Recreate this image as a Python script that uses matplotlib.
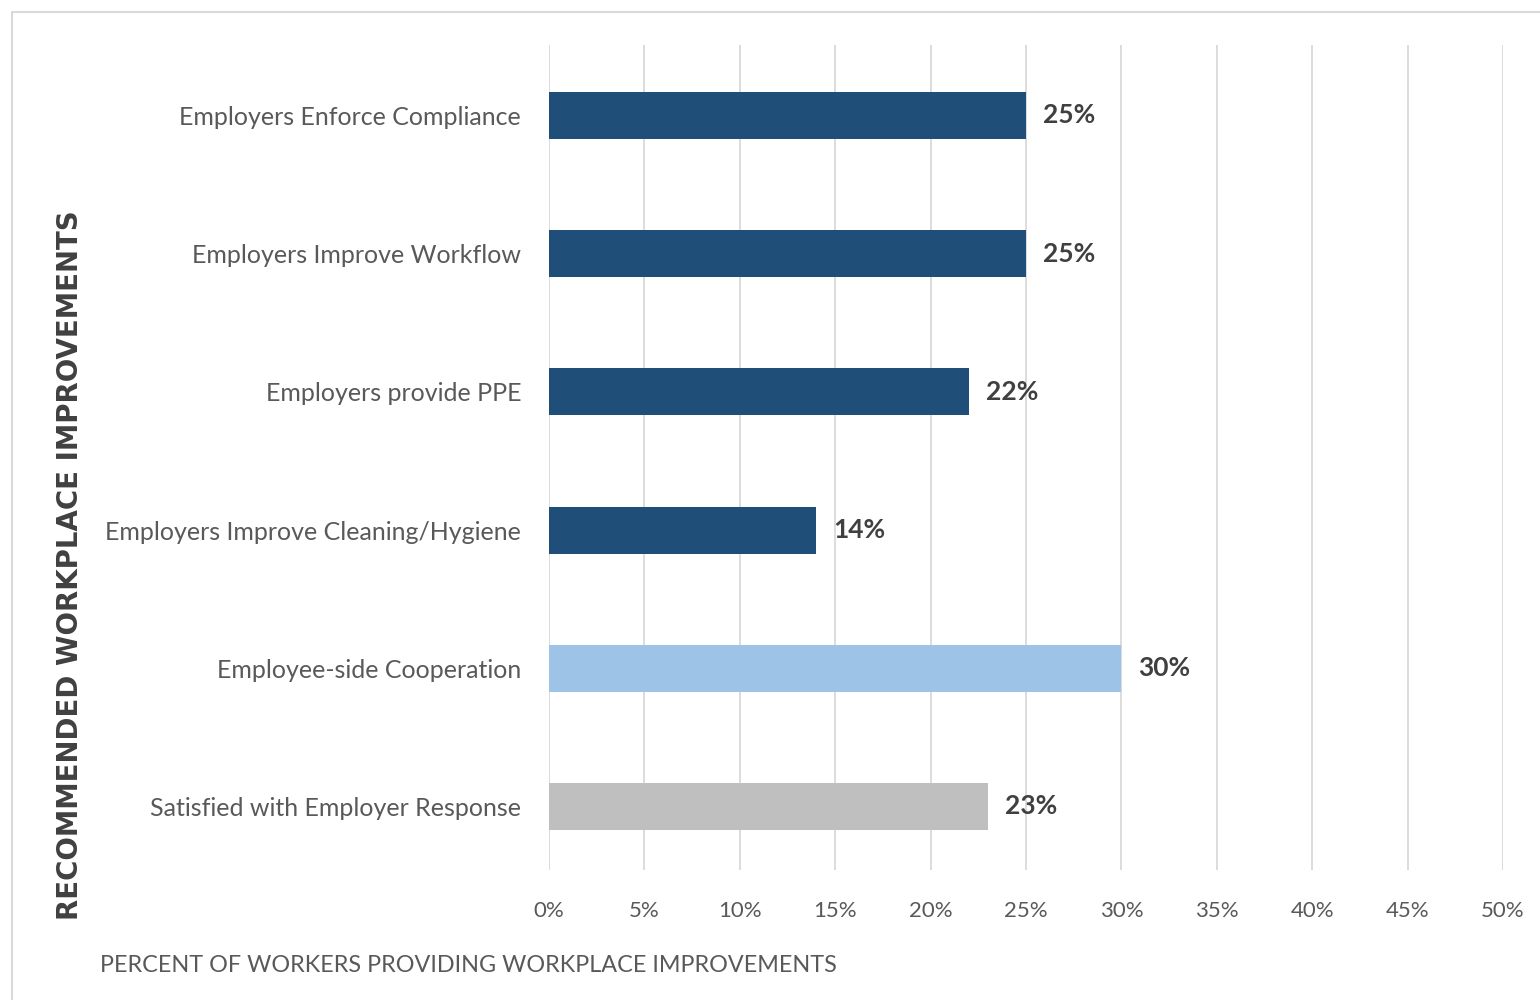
import matplotlib.pyplot as plt
from matplotlib.patches import Rectangle
from matplotlib.ticker import MultipleLocator, FuncFormatter

categorias = ['Employers Enforce Compliance', 'Employers Improve Workflow', 'Employers provide PPE',
              'Employers Improve Cleaning/Hygiene', 'Employee-side Cooperation',
              'Satisfied with Employer Response']
valores = [25, 25, 22, 14, 30, 23]
colores = ['#1F4E79', '#1F4E79', '#1F4E79', '#1F4E79', '#9DC3E6', '#BFBFBF']

plt.rcParams['font.family'] = ['Lato', 'DejaVu Sans']

fig = plt.figure(figsize=(15.4, 10), dpi=100)
ax = fig.add_axes([549 / 1540, 0.13, (1503 - 549) / 1540, 0.825])

# marco del grafico
fig.patches.append(Rectangle((12 / 1540, -0.05), 1.2, 1.05 - 12 / 1000, transform=fig.transFigure,
                             fill=False, edgecolor='#D9D9D9', linewidth=1.5))

pos = list(range(len(categorias)))[::-1]
ax.barh(pos, valores, height=0.34, color=colores, zorder=3)
for p, v in zip(pos, valores):
    ax.text(v + 0.9, p, f'{v}%', va='center', ha='left', fontsize=19, fontweight='bold', color='#404040')

ax.set_xlim(0, 50)
ax.set_ylim(-0.46, 5.51)
ax.xaxis.set_major_locator(MultipleLocator(5))
ax.xaxis.set_major_formatter(FuncFormatter(lambda x, _: f'{x:.0f}%'))
ax.set_yticks(pos)
ax.set_yticklabels(categorias)
ax.grid(axis='x', color='#D9D9D9', linewidth=1.3, zorder=0)
for s in ax.spines.values():
    s.set_visible(False)
ax.tick_params(axis='both', length=0, labelcolor='#595959')
ax.tick_params(axis='y', labelsize=18, pad=20)
ax.tick_params(axis='x', labelsize=16, pad=22)

fig.text(70 / 1540, 1 - 565 / 1000, 'RECOMMENDED WORKPLACE IMPROVEMENTS', rotation=90, ha='center', va='center',
         fontsize=19.9, fontweight='bold', color='#404040', family='DejaVu Sans')
fig.text(100 / 1540, 1 - 965 / 1000, 'PERCENT OF WORKERS PROVIDING WORKPLACE IMPROVEMENTS', ha='left', va='center',
         fontsize=16.8, color='#595959')

plt.savefig('out.png', dpi=100)
